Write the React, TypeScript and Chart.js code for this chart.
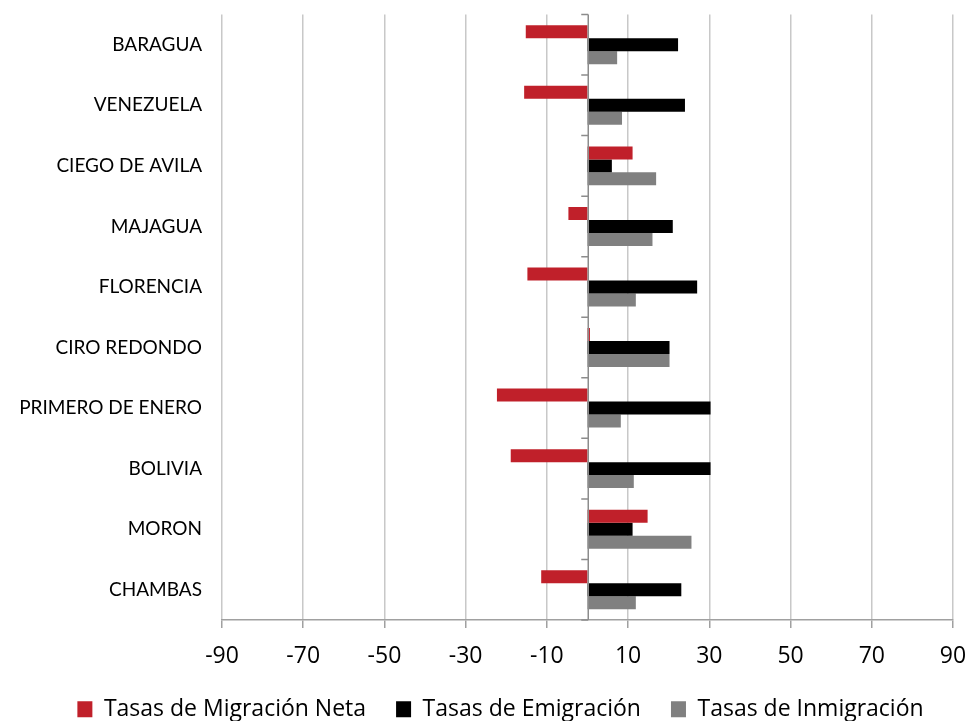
import React, { useEffect, useRef } from "react";
import { Chart, registerables } from "chart.js";

Chart.register(...registerables);

const categories = [
  "BARAGUA",
  "VENEZUELA",
  "CIEGO DE AVILA",
  "MAJAGUA",
  "FLORENCIA",
  "CIRO REDONDO",
  "PRIMERO DE ENERO",
  "BOLIVIA",
  "MORON",
  "CHAMBAS",
];

const seriesNames = [
  "Tasas de Migración Neta",
  "Tasas de Emigración",
  "Tasas de Inmigración",
];

const netaValues = [-15.2, -15.6, 11.1, -4.7, -14.8, 0.6, -22.3, -18.9, 14.8, -11.4];
const emigracionValues = [22.3, 24.0, 6.0, 21.0, 27.0, 20.2, 30.3, 30.3, 11.1, 23.1];
const inmigracionValues = [7.3, 8.5, 16.9, 16.0, 11.9, 20.2, 8.2, 11.4, 25.6, 11.9];

const xMin = -90;
const xMax = 90;
const xStep = 20;

const seriesColors = ["#C0202A", "#000000", "#808080"];

const zeroAxisPlugin = {
  id: "zeroAxis",
  afterDatasetsDraw(chart: any) {
    const { ctx, chartArea, scales } = chart;
    const xs = scales.x;
    const ys = scales.y;
    const x0 = Math.round(xs.getPixelForValue(0)) + 0.25;
    const n = ys.ticks.length;
    const band = n > 1 ? ys.getPixelForValue(1) - ys.getPixelForValue(0) : chartArea.bottom - chartArea.top;
    ctx.save();
    ctx.strokeStyle = "#8c8c8c";
    ctx.lineWidth = 1.5;
    ctx.beginPath();
    ctx.moveTo(x0, chartArea.top);
    ctx.lineTo(x0, chartArea.bottom);
    for (let i = 0; i <= n; i++) {
      const y = i < n ? ys.getPixelForValue(i) - band / 2 : chartArea.bottom;
      ctx.moveTo(x0 - 7, y);
      ctx.lineTo(x0, y);
    }
    ctx.stroke();
    ctx.restore();
  },
};

// shifts the bottom legend sideways so it sits where the reference has it
const legendShiftPlugin = {
  id: "legendShift",
  afterLayout(chart: any) {
    const lg = chart.legend;
    if (lg) {
      lg.left += 24;
      lg.right += 24;
    }
  },
};

export default function App() {
  const canvasRef = useRef<HTMLCanvasElement | null>(null);

  useEffect(() => {
    const canvas = canvasRef.current;
    if (!canvas) return;
    const chart = new Chart(canvas, {
      type: "bar",
      data: {
        labels: categories,
        datasets: [
          { label: seriesNames[0], data: netaValues, backgroundColor: seriesColors[0], borderWidth: 0 },
          { label: seriesNames[1], data: emigracionValues, backgroundColor: seriesColors[1], borderWidth: 0 },
          { label: seriesNames[2], data: inmigracionValues, backgroundColor: seriesColors[2], borderWidth: 0 },
        ],
      },
      options: {
        indexAxis: "y",
        animation: false,
        responsive: false,
        devicePixelRatio: 1,
        font: { family: "Lato" },
        layout: { padding: { top: 14.5, left: 0, right: 17, bottom: 0 } },
        datasets: {
          bar: { categoryPercentage: 0.644, barPercentage: 1.0 },
        },
        plugins: {
          tooltip: { enabled: false },
          legend: {
            position: "bottom",
            maxHeight: 53.3,
            labels: {
              color: "#000000",
              font: { family: "Open Sans", size: 23 },
              boxWidth: 15,
              boxHeight: 16,
              padding: 30,
            },
          },
        },
        scales: {
          x: {
            type: "linear",
            min: xMin,
            max: xMax,
            afterFit(axis: any) {
              axis.height = 47.7;
              axis.paddingLeft = 0;
              axis.paddingRight = 0;
            },
            ticks: {
              stepSize: xStep,
              color: "#000000",
              font: { family: "Open Sans", size: 23 },
              padding: 14.7,
              maxRotation: 0,
              autoSkip: false,
            },
            grid: {
              color: "#c8c8c8",
              lineWidth: 1.5,
              drawTicks: true,
              tickLength: 8,
              tickColor: "#a0a0a0",
            },
            border: { display: true, color: "#a0a0a0", width: 1.5 },
          },
          y: {
            type: "category",
            afterFit(axis: any) {
              axis.width = 222;
              axis.paddingTop = 0;
              axis.paddingBottom = 0;
            },
            ticks: {
              color: "#000000",
              font: { family: "Lato", size: 19 },
              padding: 20,
              autoSkip: false,
            },
            grid: { display: false, drawTicks: false },
            border: { display: false },
          },
        },
      },
      plugins: [zeroAxisPlugin, legendShiftPlugin],
    } as any);
    return () => chart.destroy();
  }, []);

  return (
    <div style={{ position: "absolute", left: 0, top: 0, width: 970, height: 721, background: "#ffffff" }}>
      <canvas ref={canvasRef} width={970} height={721} style={{ display: "block" }} />
    </div>
  );
}
